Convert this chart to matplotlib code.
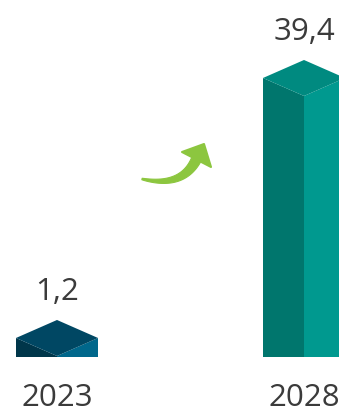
import numpy as np
import matplotlib.pyplot as plt
from matplotlib.patches import Polygon

years = ['2023', '2028']
values = [1.2, 39.4]
value_labels = [f'{v:.1f}'.replace('.', ',') for v in values]

top_colors = ['#004763', '#008a80']
left_colors = ['#00364a', '#00766d']
right_colors = ['#00678b', '#00998f']
arrow_color = '#8cc63f'
text_color = '#3b3b3b'

W, H = 339, 411
fig = plt.figure(figsize=(W / 100, H / 100), dpi=100)
ax = fig.add_axes([0, 0, 1, 1])

# scales: px per category step and px per unit of value
sx, sy = 247.0, 6.806
floor = 1.05           # value sitting on the ground line
x0_px, ground_px = 57, 357
ax.set_xlim(-x0_px / sx, (W - x0_px) / sx)
ax.set_ylim(floor - (H - ground_px) / sy, floor + ground_px / sy)
ax.axis('off')

hw = 41 / sx    # half width of a box
d = 18 / sy     # half height of the top diamond

for i, v in enumerate(values):
    x = i
    left = [(x - hw, v + d), (x, v), (x, floor), (x - hw, floor)]
    right = [(x, v), (x + hw, v + d), (x + hw, floor), (x, floor)]
    top = [(x - hw, v + d), (x, v + 2 * d), (x + hw, v + d), (x, v)]
    ax.add_patch(Polygon(left, closed=True, fc=left_colors[i], ec='none'))
    ax.add_patch(Polygon(right, closed=True, fc=right_colors[i], ec='none'))
    ax.add_patch(Polygon(top, closed=True, fc=top_colors[i], ec='none'))

    ax.annotate(value_labels[i], xy=(x, v + 2 * d), xytext=(0, 19.5),
                textcoords='offset pixels', ha='center', va='baseline',
                fontsize=22.5, family='Open Sans', color=text_color)
    ax.annotate(years[i], xy=(x, floor), xytext=(0, -48.5),
                textcoords='offset pixels', ha='center', va='baseline',
                fontsize=22.5, family='Open Sans', color=text_color)

# curved growth arrow, drawn in pixel space on an overlay
ov = fig.add_axes([0, 0, 1, 1])
ov.set_xlim(0, W)
ov.set_ylim(H, 0)
ov.axis('off')

p0, p1, p2 = np.array([142, 179]), np.array([182, 188]), np.array([196, 160])
t = np.linspace(0, 1, 60)[:, None]
curve = (1 - t) ** 2 * p0 + 2 * (1 - t) * t * p1 + t ** 2 * p2
tang = 2 * (1 - t) * (p1 - p0) + 2 * t * (p2 - p1)
tang /= np.linalg.norm(tang, axis=1)[:, None]
norm = np.column_stack([-tang[:, 1], tang[:, 0]])
width = (1.5 + 8.5 * t[:, 0] ** 0.8)[:, None] / 2
body = np.vstack([curve + norm * width, (curve - norm * width)[::-1]])
ov.add_patch(Polygon(body, closed=True, fc=arrow_color, ec=arrow_color,
                     lw=0.8, joinstyle='round'))
head = [(182, 152), (204, 144), (211, 167)]
ov.add_patch(Polygon(head, closed=True, fc=arrow_color, ec=arrow_color,
                     lw=1.5, joinstyle='round'))

fig.savefig('out.png', dpi=100, facecolor='white')
